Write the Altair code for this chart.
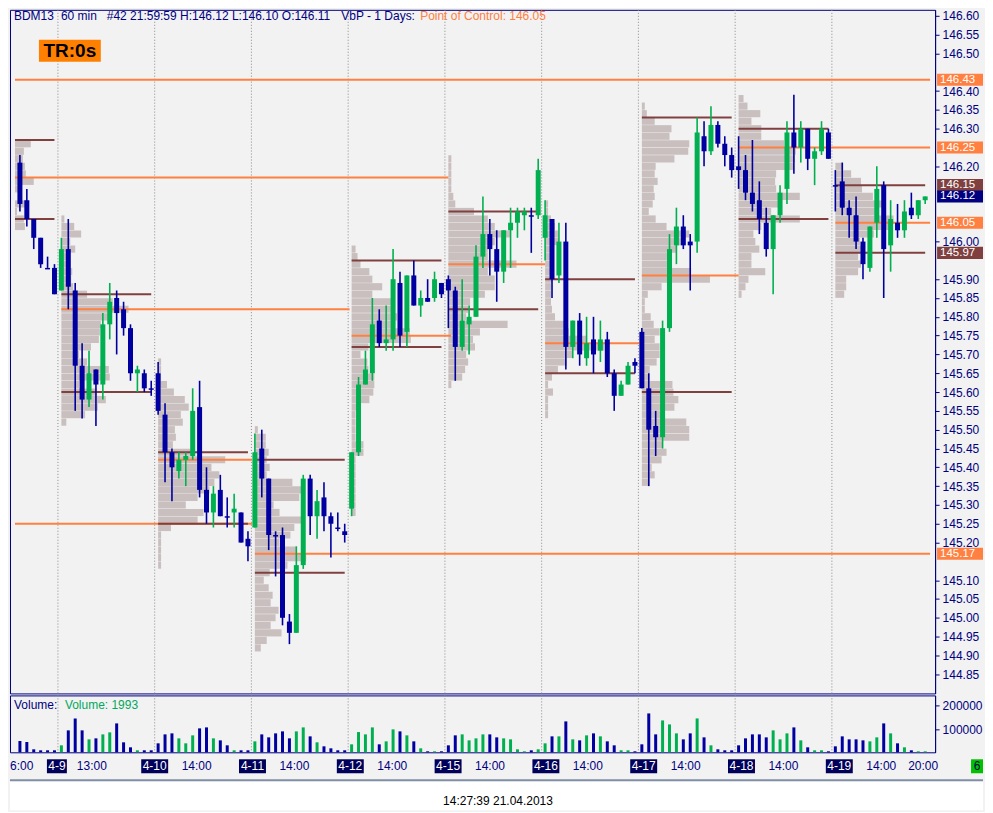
import altair as alt
import numpy as np
import pandas as pd

# hourly bars, 8 Apr 16:00 .. 19 Apr 21:00 (one row of 14 per day, first row partial)
opens = [
    146.21, 146.11, 146.06, 146.01, 145.93, 145.93,
    145.87, 145.98, 145.87, 145.67, 145.58, 145.66, 145.62, 145.78, 145.85, 145.82, 145.77, 145.65, 145.65, 145.61,
    145.65, 145.54, 145.44, 145.39, 145.42, 145.43, 145.56, 145.34, 145.28, 145.34, 145.27, 145.28, 145.28, 145.21,
    145.24, 145.45, 145.37, 145.22, 145.22, 144.99, 144.96, 145.14, 145.37, 145.27, 145.32, 145.27, 145.24, 145.23,
    145.29, 145.44, 145.62, 145.65, 145.79, 145.73, 145.74, 145.89, 145.76, 145.91, 145.83, 145.85, 145.85, 145.89,
    145.90, 145.87, 145.72, 145.78, 145.80, 145.96, 146.02, 145.98, 145.92, 146.03, 146.05, 146.07, 146.07, 146.07,
    146.01, 146.06, 145.91, 146.00, 145.72, 145.79, 145.69, 145.74, 145.71, 145.74, 145.65, 145.59, 145.62, 145.68,
    145.76, 145.61, 145.51, 145.48, 145.77, 145.99, 146.04, 146.00, 146.00, 146.28, 146.24, 146.31, 146.26, 146.23,
    146.20, 146.19, 146.13, 146.11, 146.05, 145.98, 146.07, 146.14, 146.29, 146.25, 146.30, 146.22, 146.24, 146.29,
    146.15, 146.16, 146.09, 146.07, 146.00, 145.93, 146.05, 146.15, 145.99, 146.05, 146.03, 146.09, 146.07, 146.11,
]
highs = [
    146.23, 146.14, 146.06, 146.01, 145.96, 145.94,
    146.01, 146.06, 145.89, 145.73, 145.71, 145.66, 145.81, 145.89, 145.87, 145.84, 145.78, 145.67, 145.66, 145.63,
    145.68, 145.57, 145.45, 145.44, 145.44, 145.61, 145.63, 145.40, 145.35, 145.38, 145.32, 145.33, 145.28, 145.23,
    145.49, 145.50, 145.37, 145.23, 145.24, 145.01, 145.19, 145.38, 145.38, 145.34, 145.36, 145.28, 145.28, 145.25,
    145.44, 145.64, 145.71, 145.85, 145.82, 145.83, 145.98, 145.92, 145.91, 145.95, 145.87, 145.90, 145.92, 145.89,
    145.91, 145.88, 145.90, 145.83, 145.99, 146.12, 146.06, 146.03, 146.03, 146.09, 146.09, 146.09, 146.09, 146.22,
    146.11, 146.06, 146.05, 146.05, 145.79, 145.81, 145.80, 145.80, 145.79, 145.76, 145.66, 145.63, 145.68, 145.69,
    145.77, 145.65, 145.55, 145.79, 146.02, 146.09, 146.07, 146.02, 146.33, 146.32, 146.36, 146.32, 146.28, 146.25,
    146.28, 146.23, 146.27, 146.16, 146.09, 146.07, 146.15, 146.32, 146.39, 146.32, 146.30, 146.25, 146.32, 146.30,
    146.19, 146.21, 146.11, 146.12, 146.01, 146.04, 146.20, 146.16, 146.11, 146.10, 146.11, 146.13, 146.11, 146.12,
]
lows = [
    146.08, 146.04, 145.98, 145.93, 145.93, 145.86,
    145.87, 145.82, 145.55, 145.53, 145.56, 145.51, 145.58, 145.74, 145.70, 145.75, 145.63, 145.60, 145.60, 145.59,
    145.54, 145.36, 145.31, 145.37, 145.35, 145.42, 145.32, 145.25, 145.24, 145.27, 145.24, 145.24, 145.20, 145.15,
    145.24, 145.32, 145.18, 145.11, 144.98, 144.93, 144.96, 145.13, 145.22, 145.21, 145.23, 145.16, 145.23, 145.20,
    145.27, 145.43, 145.62, 145.63, 145.72, 145.71, 145.71, 145.72, 145.72, 145.83, 145.80, 145.84, 145.84, 145.85,
    145.77, 145.63, 145.71, 145.70, 145.80, 145.93, 145.91, 145.84, 145.89, 145.93, 146.01, 146.03, 145.97, 146.06,
    145.95, 145.85, 145.89, 145.66, 145.69, 145.67, 145.67, 145.65, 145.68, 145.64, 145.55, 145.59, 145.62, 145.65,
    145.61, 145.35, 145.43, 145.45, 145.76, 145.94, 145.98, 145.87, 145.97, 146.20, 146.23, 146.25, 146.20, 146.17,
    146.14, 146.11, 146.08, 146.02, 145.96, 145.86, 146.05, 146.10, 146.18, 146.21, 146.19, 146.15, 146.23, 146.22,
    146.08, 146.07, 146.01, 145.98, 145.90, 145.92, 146.01, 145.85, 145.92, 146.01, 146.01, 146.06, 146.06, 146.10,
]
closes = [
    146.10, 146.06, 146.01, 145.94, 145.93, 145.86,
    145.98, 145.88, 145.67, 145.58, 145.65, 145.62, 145.78, 145.84, 145.81, 145.77, 145.65, 145.66, 145.61, 145.61,
    145.55, 145.44, 145.40, 145.42, 145.43, 145.55, 145.34, 145.28, 145.33, 145.27, 145.27, 145.29, 145.20, 145.19,
    145.44, 145.37, 145.22, 145.22, 145.00, 144.96, 145.14, 145.37, 145.27, 145.31, 145.27, 145.25, 145.24, 145.22,
    145.44, 145.62, 145.66, 145.78, 145.73, 145.74, 145.90, 145.75, 145.91, 145.83, 145.85, 145.84, 145.90, 145.86,
    145.87, 145.72, 145.79, 145.80, 145.96, 146.02, 145.98, 145.92, 146.03, 146.05, 146.08, 146.08, 146.07, 146.19,
    146.07, 145.90, 146.00, 145.72, 145.79, 145.70, 145.73, 145.70, 145.74, 145.65, 145.59, 145.62, 145.67, 145.67,
    145.61, 145.50, 145.48, 145.77, 145.98, 146.04, 145.99, 145.99, 146.29, 146.24, 146.31, 146.26, 146.23, 146.19,
    146.19, 146.13, 146.10, 146.06, 145.98, 146.07, 146.13, 146.29, 146.25, 146.30, 146.22, 146.24, 146.30, 146.22,
    146.15, 146.09, 146.07, 146.00, 145.94, 146.04, 146.14, 145.98, 146.06, 146.03, 146.08, 146.07, 146.11, 146.12,
]
volumes = [
    48600, 44300, 12900, 8600, 8600, 8600,
    30000, 94300, 145700, 94300, 55700, 60000, 77100, 85700, 124300, 42900, 21400, 8600, 8600, 8600,
    38600, 77100, 81400, 60000, 38600, 72900, 102900, 107100, 60000, 51400, 30000, 8600, 8600, 8600,
    47100, 77100, 64300, 81400, 90000, 60000, 90000, 107100, 68600, 42900, 25700, 17100, 8600, 8600,
    34300, 87100, 77100, 107100, 34300, 47100, 98600, 90000, 72900, 47100, 17100, 4300, 4300, 4300,
    30000, 72900, 77100, 51400, 60000, 77100, 77100, 64300, 60000, 55700, 12900, 4300, 8600, 12900,
    38600, 68600, 68600, 132900, 55700, 51400, 72900, 81400, 68600, 47100, 30000, 8600, 8600, 4300,
    34300, 167100, 77100, 137100, 120000, 81400, 55700, 81400, 145700, 64300, 30000, 12900, 8600, 8600,
    30000, 60000, 77100, 77100, 64300, 94300, 55700, 81400, 107100, 51400, 21400, 8600, 8600, 4300,
    25700, 68600, 55700, 55700, 51400, 47100, 64300, 124300, 81400, 38600, 21400, 8600, 4300, 4300,
]

day_names = ["4-9", "4-10", "4-11", "4-12", "4-15", "4-16", "4-17", "4-18", "4-19"]
day_first_bar = [6, 20, 34, 48, 62, 76, 90, 104, 118]
time_labels = ["6:00", "13:00", "14:00", "14:00", "14:00", "14:00", "14:00", "14:00", "14:00", "14:00", "20:00"]
time_bar = [0, 11, 26, 40, 54, 68, 82, 96, 110, 124, 130]

# volume at price, one value per 0.02 row going down from prof_top
prof_start = [-0.714, 6, 20, 34, 48, 62, 76, 90, 104, 118]
prof_top = [146.26, 146.06, 145.68, 145.50, 145.98, 146.22, 146.10, 146.36, 146.38, 146.20]
prof_0408 = [16, 9, 8, 10, 11, 19, 3, 0, 11, 2, 9, 10]
prof_0409 = [3, 13, 20, 9, 14, 8, 8, 11, 10, 12, 26, 52, 68, 50, 40, 39, 38, 30, 18, 26, 48, 49, 18, 36, 45, 37, 24, 5]
prof_0410 = [3, 3, 3, 9, 16, 27, 31, 23, 25, 17, 18, 15, 33, 68, 54, 62, 57, 52, 40, 28, 46, 40, 13, 3, 3, 3, 3, 3]
prof_0411 = [3, 11, 11, 14, 12, 15, 12, 38, 47, 45, 19, 25, 47, 40, 36, 25, 42, 52, 33, 15, 9, 14, 18, 16, 24, 21,
             16, 27, 12, 6]
prof_0412 = [4, 6, 9, 18, 21, 31, 21, 41, 44, 46, 44, 59, 60, 17, 9, 16, 17, 23, 23, 22, 18, 6, 4, 4, 4, 4, 12, 12,
             4, 4, 4, 4, 4, 4, 4, 4]
prof_0415 = [3, 3, 3, 3, 3, 5, 7, 26, 40, 47, 63, 47, 40, 40, 69, 40, 47, 47, 37, 22, 20, 18, 60, 32, 25, 27, 18, 20,
             17, 14, 3]
prof_0416 = [3, 3, 6, 10, 13, 14, 7, 9, 8, 9, 7, 6, 6, 6, 7, 10, 22, 24, 42, 60, 28, 22, 13, 7, 3, 8, 3, 3, 3]
prof_0417 = [3, 5, 13, 30, 28, 48, 47, 33, 14, 13, 16, 12, 13, 11, 7, 14, 25, 48, 40, 35, 30, 28, 50, 69, 20, 6, 3,
             3, 9, 12, 18, 13, 18, 18, 15, 8, 8, 31, 32, 37, 33, 21, 45, 48, 48, 21, 25, 20, 10, 13, 8]
prof_0418 = [5, 9, 22, 13, 23, 23, 46, 58, 57, 56, 38, 37, 38, 62, 40, 33, 62, 23, 15, 17, 21, 13, 13, 27, 10, 7, 3]
prof_0419 = [8, 16, 26, 27, 38, 51, 43, 59, 55, 39, 25, 29, 23, 26, 23, 11, 11, 9]
profiles = [prof_0408, prof_0409, prof_0410, prof_0411, prof_0412, prof_0415, prof_0416, prof_0417, prof_0418,
            prof_0419]

# point of control lines (orange) and value area lines (maroon), extents in bars
poc_price = [146.43, 146.25, 146.17, 146.05, 145.94, 145.91, 145.82, 145.75, 145.73, 145.42, 145.25, 145.17]
poc_from = [-0.714, 104, -0.714, 118, 62, 90, 6, 48, 76, 20, -0.714, 34]
poc_to = [131.714, 131.714, 62, 131.714, 76, 104, 47.7, 62.4, 89.6, 33.6, 33.6, 131.714]
va_price = [146.27, 146.06, 145.86, 145.60, 145.44, 145.25, 145.42, 145.12, 145.95, 145.72,
            146.08, 145.82, 145.90, 145.65, 146.33, 145.60, 146.30, 146.06, 146.15, 145.97]
va_from = [-0.714, -0.714, 6, 6, 20, 20, 34, 34, 48, 48, 62, 62, 76, 76, 90, 90, 104, 104, 118, 118]
va_to = [5, 5, 19, 19, 33, 33, 47, 47, 61, 61, 75, 75, 89, 89, 103, 103, 117, 117, 131, 131]

badge_price = [146.43, 146.25, 146.15, 146.12, 146.05, 145.97, 145.17]
badge_color = ["#ff8040", "#ff8040", "#804040", "#000080", "#ff8040", "#804040", "#ff8040"]

# axis ticks every 0.05; the ones hidden behind the price badges are left out
axis_ticks = [round(144.85 + 0.05 * i, 2) for i in range(36)]
axis_ticks = [v for v in axis_ticks if min(abs(v - b) for b in badge_price) > 0.025]

W = 927
NAVY = "#000080"
UP, DOWN = "#00b050", "#0000a0"
ORANGE, MAROON = "#ff8040", "#804040"
BG = "#f2f2f2"
FONT = "Liberation Sans"

xs = alt.Scale(domain=[-0.714, 131.714], nice=False, zero=False)
ys = alt.Scale(domain=[144.799, 146.616], nice=False, zero=False)
vs = alt.Scale(domain=[0, 244600], nice=False, zero=False)
price_axis = alt.Axis(orient="right", values=axis_ticks, format=".2f",
                      labelFont=FONT, labelFontSize=12, labelColor=NAVY, domainColor=NAVY, tickColor=NAVY,
                      tickSize=4, labelPadding=3, grid=False, title=None)
vol_axis = alt.Axis(orient="right", values=[100000, 200000], format="d", labelFont=FONT, labelFontSize=12,
                    labelColor=NAVY, domainColor=NAVY, tickColor=NAVY, tickSize=4, labelPadding=3,
                    grid=False, title=None)
dir_color = alt.Color("dir:N", scale=alt.Scale(domain=["up", "down"], range=[UP, DOWN]), legend=None)
one = pd.DataFrame({"a": [0]})


def X(f):
    return alt.X(f, scale=xs, axis=None)


def Y(f):
    return alt.Y(f, scale=ys, axis=price_axis)


def label(text, x, y, color, size=12, weight="normal", align="left"):
    return alt.Chart(one).mark_text(align=align, baseline="middle", font=FONT, fontSize=size,
                                    fontWeight=weight, color=color).encode(
        x=alt.value(x), y=alt.value(y), text=alt.value(text))


bars = pd.DataFrame({"idx": np.arange(len(opens)), "open": opens, "high": highs, "low": lows,
                     "close": closes, "volume": volumes})
bars["dir"] = np.where(bars["close"] > bars["open"], "up", "down")
doji = np.isclose(bars["close"], bars["open"])
bars["body_end"] = np.where(doji, bars["open"] - 0.004, bars["close"])

sep = pd.DataFrame({"x": [b - 0.5 for b in day_first_bar]})

rows = []
for d, vals in enumerate(profiles):
    for i, v in enumerate(vals):
        p = prof_top[d] - 0.02 * i
        rows.append({"p_hi": p + 0.0095, "p_lo": p - 0.0095, "x0": prof_start[d],
                     "x1": prof_start[d] + v / 7.0})
prof = pd.DataFrame(rows)

poc = pd.DataFrame({"price": poc_price, "x0": poc_from, "x1": poc_to})
va = pd.DataFrame({"price": va_price, "x0": va_from, "x1": va_to})
badges = pd.DataFrame({"price": badge_price, "col": badge_color})
badges["hi"] = badges["price"] + 0.016
badges["lo"] = badges["price"] - 0.016

# ---- price panel
sep_rule = alt.Chart(sep).mark_rule(color="#8a8a8a", strokeDash=[1, 2], strokeWidth=1).encode(x=X("x:Q"))
prof_rect = alt.Chart(prof).mark_rect(color="#c9bfbf").encode(x=X("x0:Q"), x2="x1:Q", y=Y("p_hi:Q"), y2="p_lo:Q")
poc_rule = alt.Chart(poc).mark_rule(color=ORANGE, strokeWidth=2).encode(x=X("x0:Q"), x2="x1:Q", y=Y("price:Q"))
va_rule = alt.Chart(va).mark_rule(color=MAROON, strokeWidth=2).encode(x=X("x0:Q"), x2="x1:Q", y=Y("price:Q"))
wick = alt.Chart(bars).mark_rule(strokeWidth=1.6).encode(x=X("idx:Q"), y=Y("low:Q"), y2="high:Q", color=dir_color)
body = alt.Chart(bars).mark_bar(size=5).encode(x=X("idx:Q"), y=Y("open:Q"), y2="body_end:Q", color=dir_color)
badge_box = alt.Chart(badges).mark_rect().encode(
    x=alt.value(W + 2), x2=alt.value(W + 48), y=Y("hi:Q"), y2="lo:Q", color=alt.Color("col:N", scale=None))
badge_txt = alt.Chart(badges).mark_text(align="left", baseline="middle", font=FONT, fontSize=11.5,
                                        color="white").encode(
    x=alt.value(W + 5), y=Y("price:Q"), text=alt.Text("price:Q", format=".2f"))
tr_box = alt.Chart(one).mark_rect(color="#ff8000").encode(
    x=alt.value(29), x2=alt.value(91), y=alt.value(30), y2=alt.value(52))

price = alt.layer(
    sep_rule, prof_rect, poc_rule, va_rule, wick, body, badge_box, badge_txt,
    label("BDM13", 4, 6, NAVY), label("60 min", 51, 6, NAVY),
    label("#42 21:59:59 H:146.12 L:146.10 O:146.11", 97, 6, NAVY),
    label("VbP - 1 Days:", 332, 6, NAVY), label("Point of Control: 146.05", 411, 6, ORANGE),
    tr_box, label("TR:0s", 60, 41, "black", size=19, weight="bold", align="center"),
).properties(width=W, height=685, view=alt.ViewBackground(fill=BG, stroke=NAVY, strokeWidth=1))

# ---- volume panel
vol_bars = alt.Chart(bars).mark_bar(size=3).encode(
    x=X("idx:Q"), y=alt.Y("volume:Q", scale=vs, axis=vol_axis), color=dir_color)
volume = alt.layer(
    sep_rule, vol_bars,
    label("Volume:", 4, 10, NAVY), label("Volume: 1993", 55, 10, "#00a860"),
).properties(width=W, height=57, view=alt.ViewBackground(fill=BG, stroke=NAVY, strokeWidth=1))

# ---- date / time strip
dates = pd.DataFrame({"idx": day_first_bar, "name": day_names})
dates["half"] = (dates["name"].str.len() * 7 - 1) / 2 / 7.0
dates["lo"] = dates["idx"] - dates["half"]
dates["hi"] = dates["idx"] + dates["half"]
times = pd.DataFrame({"idx": time_bar, "t": time_labels})
times["align_left"] = times["idx"] == 0

date_box = alt.Chart(dates).mark_rect(color="#00005a").encode(
    x=X("lo:Q"), x2="hi:Q", y=alt.value(5), y2=alt.value(19))
date_txt = alt.Chart(dates).mark_text(baseline="middle", font=FONT, fontSize=12, color="white").encode(
    x=X("idx:Q"), y=alt.value(12), text="name:N")
time_txt = alt.Chart(times[~times["align_left"]]).mark_text(
    baseline="middle", font=FONT, fontSize=12, color=NAVY).encode(x=X("idx:Q"), y=alt.value(12), text="t:N")
first_time = alt.Chart(times[times["align_left"]]).mark_text(
    align="left", baseline="middle", font=FONT, fontSize=12, color=NAVY).encode(
    x=alt.value(0), y=alt.value(12), text="t:N")
six_box = alt.Chart(one).mark_rect(color="#00c000").encode(
    x=alt.value(W + 36), x2=alt.value(W + 48), y=alt.value(5), y2=alt.value(19))

strip = alt.layer(
    date_box, date_txt, time_txt, first_time, six_box, label("6", W + 42, 12, "#000050", align="center"),
).properties(width=W, height=20, view=alt.ViewBackground(fill=BG, stroke="transparent"))

# ---- status line
status_bg = alt.Chart(one).mark_rect(color="white").encode(
    x=alt.value(0), x2=alt.value(W + 48), y=alt.value(5), y2=alt.value(34))
status_line = alt.Chart(one).mark_rule(color="#7f8fa6", strokeWidth=2).encode(
    x=alt.value(0), x2=alt.value(W + 48), y=alt.value(4))
status = alt.layer(
    status_bg, status_line, label("14:27:39 21.04.2013", 489, 25, "black", align="center"),
).properties(width=W, height=26, view=alt.ViewBackground(fill=BG, stroke="transparent"))

chart = alt.vconcat(price, volume, strip, status, spacing=0).resolve_scale(
    x="independent", y="independent", color="independent"
).properties(padding=0, background=BG)

chart.save("out.html", embed_options={"renderer": "svg", "actions": False})
